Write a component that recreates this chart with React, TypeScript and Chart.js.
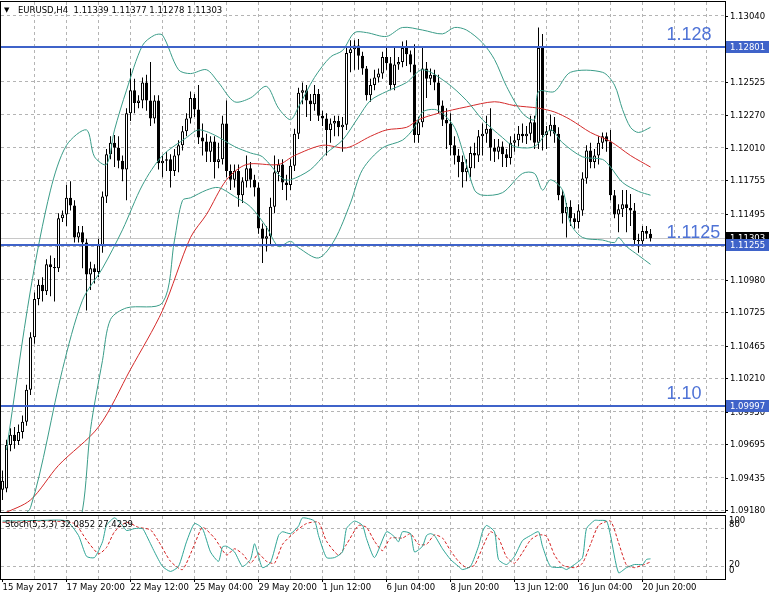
import React, { useEffect, useRef } from "react";
import { Chart, registerables } from "chart.js";

Chart.register(...registerables);

const FONT = "'DejaVu Sans', sans-serif";
const symbolName = "EURUSD,H4";

// ---- Candles (H4 bars) ----
const opens = [1.0934,1.0935,1.0969,1.0977,1.0972,1.0979,1.0987,1.1012,1.1053,1.1083,1.1094,1.1089,1.1110,1.1108,1.1107,1.1146,1.1149,1.1162,1.1156,1.1131,1.1135,1.1127,1.1102,1.1107,1.1104,1.1125,1.1163,1.1196,1.1205,1.1201,1.1191,1.1184,1.1228,1.1246,1.1236,1.1238,1.1252,1.1238,1.1224,1.1238,1.1189,1.1191,1.1192,1.1183,1.1195,1.1203,1.1214,1.1224,1.1240,1.1231,1.1209,1.1206,1.1198,1.1206,1.1190,1.1192,1.1220,1.1183,1.1176,1.1183,1.1164,1.1175,1.1185,1.1176,1.1170,1.1138,1.1130,1.1132,1.1155,1.1182,1.1188,1.1174,1.1172,1.1187,1.1212,1.1244,1.1246,1.1238,1.1235,1.1243,1.1226,1.1224,1.1215,1.1220,1.1222,1.1217,1.1219,1.1275,1.1278,1.1281,1.1273,1.1263,1.1242,1.1250,1.1256,1.1259,1.1272,1.1267,1.1250,1.1266,1.1268,1.1279,1.1274,1.1266,1.1211,1.1221,1.1263,1.1255,1.1258,1.1252,1.1234,1.1223,1.1220,1.1203,1.1195,1.1190,1.1182,1.1185,1.1197,1.1195,1.1210,1.1212,1.1216,1.1201,1.1198,1.1202,1.1196,1.1193,1.1205,1.1207,1.1212,1.1210,1.1212,1.1221,1.1205,1.1279,1.1211,1.1214,1.1219,1.1212,1.1164,1.1150,1.1155,1.1146,1.1143,1.1152,1.1177,1.1199,1.1190,1.1195,1.1205,1.1210,1.1206,1.1164,1.1149,1.1153,1.1157,1.1154,1.1152,1.1129,1.1128,1.1136,1.11339];
const highs = [1.0949,1.0973,1.0982,1.0983,1.0985,1.0992,1.1016,1.1057,1.1088,1.1098,1.1100,1.1114,1.1117,1.1115,1.1150,1.1152,1.1172,1.1175,1.1160,1.1140,1.1140,1.1130,1.1112,1.1110,1.1130,1.1167,1.1200,1.1210,1.1211,1.1210,1.1195,1.1232,1.1263,1.1255,1.1242,1.1256,1.1258,1.1268,1.1242,1.1242,1.1195,1.1198,1.1196,1.1200,1.1207,1.1218,1.1228,1.1245,1.1243,1.1250,1.1220,1.1212,1.1210,1.1210,1.1205,1.1226,1.1238,1.1188,1.1188,1.1188,1.1178,1.1195,1.1190,1.1180,1.1174,1.1142,1.1140,1.1162,1.1195,1.1192,1.1192,1.1180,1.1192,1.1216,1.1248,1.1252,1.1250,1.1243,1.1250,1.1247,1.1230,1.1228,1.1224,1.1226,1.1226,1.1225,1.1280,1.1285,1.1285,1.1286,1.1276,1.1265,1.1255,1.1262,1.1263,1.1276,1.1280,1.1272,1.1280,1.1272,1.1284,1.1285,1.1277,1.1282,1.1225,1.1280,1.1268,1.1263,1.1262,1.1258,1.1238,1.1232,1.1228,1.1210,1.1200,1.1195,1.1192,1.1202,1.1205,1.1215,1.1220,1.1226,1.1232,1.1208,1.1208,1.1206,1.1200,1.1210,1.1212,1.1218,1.1220,1.1218,1.1226,1.1226,1.1295,1.1290,1.1218,1.1227,1.1225,1.1217,1.1168,1.1158,1.1160,1.1150,1.1157,1.1182,1.1203,1.1205,1.1200,1.1210,1.1213,1.1213,1.1215,1.1168,1.1157,1.1168,1.1168,1.1165,1.1158,1.1134,1.1140,1.1140,1.11377];
const lows = [1.0926,1.0932,1.0964,1.0966,1.0969,1.0974,1.0984,1.1008,1.1048,1.1078,1.1081,1.1086,1.1085,1.1081,1.1104,1.1143,1.1140,1.1152,1.1127,1.1127,1.1107,1.1074,1.1090,1.1095,1.1100,1.1119,1.1158,1.1192,1.1186,1.1185,1.1175,1.1160,1.1222,1.1228,1.1232,1.1232,1.1230,1.1218,1.1220,1.1184,1.1178,1.1183,1.1170,1.1179,1.1182,1.1199,1.1210,1.1220,1.1225,1.1204,1.1195,1.1190,1.1190,1.1177,1.1185,1.1188,1.1178,1.1168,1.1170,1.1155,1.1158,1.1170,1.1170,1.1163,1.1134,1.1111,1.1120,1.1125,1.1150,1.1175,1.1168,1.1160,1.1168,1.1183,1.1208,1.1235,1.1225,1.1222,1.1230,1.1222,1.1218,1.1195,1.1205,1.1210,1.1210,1.1198,1.1215,1.1260,1.1262,1.1262,1.1258,1.1238,1.1237,1.1246,1.1252,1.1255,1.1262,1.1246,1.1246,1.1262,1.1264,1.1265,1.1260,1.1205,1.1205,1.1217,1.1240,1.1250,1.1246,1.1228,1.1218,1.1200,1.1195,1.1188,1.1178,1.1170,1.1175,1.1178,1.1185,1.1190,1.1195,1.1205,1.1191,1.1190,1.1192,1.1186,1.1186,1.1188,1.1198,1.1202,1.1205,1.1204,1.1207,1.1200,1.1200,1.1199,1.1200,1.1210,1.1205,1.1160,1.1142,1.1131,1.1140,1.1138,1.1138,1.1148,1.1173,1.1185,1.1185,1.1188,1.1200,1.1198,1.1160,1.1146,1.1135,1.1147,1.1135,1.1140,1.1125,1.1119,1.1124,1.1130,1.11278];
const closes = [1.0941,1.0969,1.0977,1.0972,1.0979,1.0987,1.1012,1.1053,1.1083,1.1094,1.1089,1.1110,1.1108,1.1107,1.1146,1.1149,1.1162,1.1156,1.1131,1.1135,1.1127,1.1102,1.1107,1.1104,1.1125,1.1163,1.1196,1.1205,1.1201,1.1191,1.1184,1.1228,1.1246,1.1236,1.1238,1.1252,1.1238,1.1224,1.1238,1.1189,1.1191,1.1192,1.1183,1.1195,1.1203,1.1214,1.1224,1.1240,1.1231,1.1209,1.1206,1.1198,1.1206,1.1190,1.1192,1.1220,1.1183,1.1176,1.1183,1.1164,1.1175,1.1185,1.1176,1.1170,1.1138,1.1130,1.1132,1.1155,1.1182,1.1188,1.1174,1.1172,1.1187,1.1212,1.1244,1.1246,1.1238,1.1235,1.1243,1.1226,1.1224,1.1215,1.1220,1.1222,1.1217,1.1219,1.1275,1.1278,1.1281,1.1273,1.1263,1.1242,1.1250,1.1256,1.1259,1.1272,1.1267,1.1250,1.1266,1.1268,1.1279,1.1274,1.1266,1.1211,1.1221,1.1263,1.1255,1.1258,1.1252,1.1234,1.1223,1.1220,1.1203,1.1195,1.1190,1.1182,1.1185,1.1197,1.1195,1.1210,1.1212,1.1216,1.1201,1.1198,1.1202,1.1196,1.1193,1.1205,1.1207,1.1212,1.1210,1.1212,1.1221,1.1205,1.1279,1.1211,1.1214,1.1219,1.1212,1.1164,1.1150,1.1155,1.1146,1.1143,1.1152,1.1177,1.1199,1.1190,1.1195,1.1205,1.1210,1.1206,1.1164,1.1149,1.1153,1.1157,1.1154,1.1152,1.1129,1.1128,1.1136,1.1134,1.11303];

// ---- Bollinger bands & moving average (bar index, price) ----
const bbUpperIdx = [1,7,12,16,21,23,26,28,31,35,38,40,44,47,51,54,58,62,66,69,72,74,78,82,85,88,91,96,100,105,110,113,116,120,123,126,130,133,134,138,142,150,153,155,157,159,162];
const bbUpperVal = [1.0965,1.1090,1.1168,1.1203,1.1215,1.1194,1.1188,1.1215,1.1246,1.1281,1.1289,1.1289,1.1262,1.1259,1.1262,1.1252,1.1237,1.1240,1.1249,1.1232,1.1223,1.1233,1.1256,1.1272,1.1277,1.1291,1.1291,1.1288,1.1295,1.1293,1.1290,1.1295,1.1293,1.1283,1.1270,1.1249,1.1228,1.1223,1.1245,1.1245,1.1260,1.1260,1.1250,1.1231,1.1217,1.1213,1.1217];
const bbMidIdx = [3,7,15,20,25,30,35,40,46,49,53,58,62,65,70,72,77,81,85,89,92,96,101,105,111,116,120,125,128,133,137,140,145,150,152,155,159,162];
const bbMidVal = [1.0910,1.0920,1.1028,1.1082,1.1107,1.1137,1.1172,1.1195,1.1209,1.1215,1.1211,1.1202,1.1197,1.1194,1.1177,1.1176,1.1184,1.1197,1.1207,1.1225,1.1238,1.1245,1.1252,1.1262,1.1252,1.1238,1.1223,1.1209,1.1202,1.1202,1.1215,1.1205,1.1194,1.1192,1.1186,1.1174,1.1167,1.1164];
const bbLowerIdx = [17,20,22,25,27,31,40,43,45,47,51,54,58,62,66,69,72,74,79,83,87,90,95,100,103,105,108,110,113,115,118,120,125,130,133,135,137,140,142,145,150,153,154,156,159,162];
const bbLowerVal = [1.0890,1.0918,1.0981,1.1035,1.1067,1.1076,1.1080,1.1129,1.1160,1.1162,1.1168,1.1170,1.1163,1.1155,1.1139,1.1124,1.1128,1.1123,1.1115,1.1129,1.1158,1.1184,1.1201,1.1207,1.1217,1.1229,1.1231,1.1228,1.1217,1.1199,1.1168,1.1164,1.1166,1.1181,1.1181,1.1168,1.1176,1.1168,1.1142,1.1131,1.1129,1.1127,1.1131,1.1124,1.1117,1.1110];
const maIdx = [0,7,14,24,32,40,47,51,56,61,69,73,80,86,92,96,101,104,109,116,123,128,134,138,142,147,152,157,162];
const maVal = [1.0915,1.0926,1.0953,1.0983,1.1028,1.1074,1.1131,1.1149,1.1176,1.1188,1.1188,1.1195,1.1203,1.1201,1.1210,1.1215,1.1217,1.1223,1.1228,1.1233,1.1237,1.1234,1.1232,1.1229,1.1223,1.1213,1.1206,1.1195,1.1186];

// ---- Stochastic (bar index, value) ----
const stochMainIdx = [0,10,16,19,21,23,25,26,28,30,31,33,35,36,38,40,42,44,46,48,50,52,54,55,56,58,60,62,63,64,65,67,69,70,72,74,75,78,79,81,83,85,86,88,90,91,93,96,98,99,100,102,103,105,106,107,108,110,112,114,115,117,119,120,121,123,124,126,128,130,132,134,135,137,140,141,143,145,146,148,149,151,152,154,156,158,160,161,162];
const stochMainVal = [92,93,92,69,36,34,59,85,97,85,77,80,80,69,43,20,12,20,59,88,80,43,28,51,52,43,20,31,56,36,18,26,69,75,72,84,97,92,69,34,34,43,80,92,85,64,34,75,67,59,75,72,43,52,69,72,69,48,31,20,15,20,52,75,85,75,31,23,36,61,69,75,52,20,18,15,23,34,80,93,93,92,69,10,18,23,23,31,32];
const stochSigIdx = [0,12,18,21,24,26,28,31,34,37,39,42,45,48,50,53,56,58,60,62,64,66,68,70,73,76,79,81,84,86,89,91,93,95,97,100,102,104,106,108,110,112,114,116,118,120,122,124,126,128,130,132,134,136,138,140,143,145,147,149,152,154,156,158,160,162];
const stochSigVal = [90,92,88,62,40,50,75,90,82,78,60,28,15,55,82,65,38,48,40,25,40,28,25,55,74,88,90,60,38,55,85,82,60,45,65,65,72,55,55,70,65,45,28,18,22,50,75,65,35,25,42,62,70,68,38,22,18,25,55,85,92,58,22,18,22,27];
const stochTitle = "Stoch(5,3,3)";
const stochMainLast = 32.0852;
const stochSignalLast = 27.4239;
const stochLevels = [20, 80];
const stochLabels = [100, 80, 20, 0];

// ---- Axes ----
const timeLabels = ["15 May 2017","17 May 20:00","22 May 12:00","25 May 04:00","29 May 20:00","1 Jun 12:00","6 Jun 04:00","8 Jun 20:00","13 Jun 12:00","16 Jun 04:00","20 Jun 20:00"];
const labelEvery = 16;
const gridEvery = 8;
const priceTicks = [1.1304,1.12525,1.1227,1.1201,1.11755,1.11495,1.1124,1.1098,1.10725,1.10465,1.1021,1.0995,1.09695,1.09435,1.0918];
const priceMin = 1.09166;
const priceMax = 1.13149;
const levels = [1.12801, 1.11255, 1.09997];
const levelNames = ["1.128", "1.1125", "1.10"];
const levelNameBar = 166;

const X_MIN = -0.375;
const X_MAX = 180.625;
const GRID = "#b4b4b4";
const BB = "#3a9c88";
const MA = "#d42a2a";
const BLUE = "#3f63c9";
const BLUE_TEXT = "#4f73d6";

const pts = (ix: number[], v: number[]) => ix.map((x, k) => ({ x, y: v[k] }));
const fmt = (v: number) => v.toFixed(5);

export default function App() {
  const mainRef = useRef<HTMLCanvasElement | null>(null);
  const stochRef = useRef<HTMLCanvasElement | null>(null);

  useEffect(() => {
    const n = opens.length;
    const idx = Array.from({ length: n }, (_, i) => i);
    const gridTicks: number[] = [];
    for (let v = gridEvery; v <= X_MAX; v += gridEvery) gridTicks.push(v);
    const allTicks = [0, ...gridTicks];
    const last = n - 1;

    const mainOverlay = {
      id: "mt4main",
      beforeDatasetsDraw(chart: any) {
        const { ctx, chartArea: a, scales } = chart;
        const py = Math.round(scales.y.getPixelForValue(closes[last])) + 0.5;
        ctx.save();
        ctx.strokeStyle = "#c8c8c8";
        ctx.lineWidth = 1;
        ctx.beginPath();
        ctx.moveTo(a.left, py);
        ctx.lineTo(a.right, py);
        ctx.stroke();
        ctx.restore();
      },
      afterDraw(chart: any) {
        const { ctx, chartArea: a, scales } = chart;
        const y = scales.y;
        const x = scales.x;
        ctx.save();
        // price axis labels and tick marks
        ctx.font = "8.5px " + FONT;
        ctx.textAlign = "left";
        ctx.textBaseline = "middle";
        priceTicks.forEach((v) => {
          const py = Math.round(y.getPixelForValue(v));
          ctx.fillStyle = "#000";
          ctx.fillRect(a.right, py, 3, 1);
          ctx.fillText(fmt(v), a.right + 5, py + 0.5);
        });
        // levels
        levels.forEach((lv, k) => {
          const py = Math.round(y.getPixelForValue(lv));
          ctx.fillStyle = BLUE;
          ctx.fillRect(a.left, py - 1, a.right - a.left, 2);
          ctx.font = "18px 'Liberation Sans', Arial, sans-serif";
          ctx.fillStyle = BLUE_TEXT;
          ctx.textAlign = "left";
          ctx.textBaseline = "alphabetic";
          ctx.fillText(levelNames[k], x.getPixelForValue(levelNameBar), py - 7);
        });
        // frame
        ctx.strokeStyle = "#000";
        ctx.lineWidth = 1;
        ctx.strokeRect(a.left - 0.5, a.top - 0.5, a.right - a.left + 1, a.bottom - a.top + 1);
        // axis boxes
        const box = (v: number, bg: string) => {
          const py = Math.round(y.getPixelForValue(v));
          ctx.fillStyle = bg;
          ctx.fillRect(a.right + 1, py - 6, chart.width - a.right - 1, 12);
          ctx.fillStyle = "#fff";
          ctx.font = "8.5px " + FONT;
          ctx.textAlign = "left";
          ctx.textBaseline = "middle";
          ctx.fillText(fmt(v), a.right + 5, py + 0.5);
        };
        box(closes[last], "#000");
        levels.forEach((lv) => box(lv, BLUE));
        // header
        ctx.fillStyle = "#000";
        ctx.textAlign = "left";
        ctx.textBaseline = "alphabetic";
        ctx.font = "7px " + FONT;
        ctx.fillText("\u25BC", 4, 12);
        ctx.font = "8.5px " + FONT;
        ctx.fillText(
          `${symbolName}  ${fmt(opens[last])} ${fmt(highs[last])} ${fmt(lows[last])} ${fmt(closes[last])}`,
          18,
          13
        );
        ctx.restore();
      },
    };

    const main = new Chart(mainRef.current as HTMLCanvasElement, {
      type: "bar",
      data: {
        datasets: [
          { type: "line", data: pts(bbUpperIdx, bbUpperVal), borderColor: BB, borderWidth: 1, pointRadius: 0, tension: 0.3, order: 0 },
          { type: "line", data: pts(bbMidIdx, bbMidVal), borderColor: BB, borderWidth: 1, pointRadius: 0, tension: 0.3, order: 0 },
          { type: "line", data: pts(bbLowerIdx, bbLowerVal), borderColor: BB, borderWidth: 1, pointRadius: 0, tension: 0.3, order: 0 },
          { type: "line", data: pts(maIdx, maVal), borderColor: MA, borderWidth: 1, pointRadius: 0, tension: 0.3, order: 0 },
          {
            type: "bar",
            data: idx.map((i) => ({ x: i, y: [lows[i], highs[i]] })),
            backgroundColor: "#000",
            borderWidth: 0,
            barThickness: 1,
            grouped: false,
            inflateAmount: 0,
            order: 2,
          },
          {
            type: "bar",
            data: idx.map((i) => ({ x: i, y: [opens[i], closes[i]] })),
            backgroundColor: idx.map((i) => (closes[i] >= opens[i] ? "#fff" : "#000")),
            borderColor: "#000",
            borderWidth: 1,
            borderSkipped: false,
            barThickness: 3,
            grouped: false,
            inflateAmount: 0,
            order: 1,
          },
        ] as any,
      },
      options: {
        responsive: false,
        animation: false,
        devicePixelRatio: 1,
        events: [],
        layout: { padding: { left: 1, top: 2, right: 0, bottom: 2 } },
        plugins: { legend: { display: false }, tooltip: { enabled: false } },
        scales: {
          x: {
            type: "linear",
            min: X_MIN,
            max: X_MAX,
            offset: false,
            grid: { color: GRID, drawTicks: false, offset: false },
            border: { display: false, dash: [3, 3] },
            ticks: { display: false },
            afterBuildTicks: (s: any) => { s.ticks = gridTicks.map((v) => ({ value: v })); },
            afterFit: (s: any) => { s.height = 0; },
          },
          y: {
            position: "right",
            min: priceMin,
            max: priceMax,
            beginAtZero: false,
            grid: { color: GRID, drawTicks: false },
            border: { display: false, dash: [3, 3] },
            ticks: { display: false },
            afterBuildTicks: (s: any) => { s.ticks = priceTicks.map((v) => ({ value: v })); },
            afterFit: (s: any) => { s.width = 44; },
          },
        },
      } as any,
      plugins: [mainOverlay],
    });

    const stochOverlay = {
      id: "mt4stoch",
      afterDraw(chart: any) {
        const { ctx, chartArea: a, scales } = chart;
        const y = scales.y;
        ctx.save();
        ctx.strokeStyle = "#000";
        ctx.lineWidth = 1;
        ctx.strokeRect(a.left - 0.5, a.top - 0.5, a.right - a.left + 1, a.bottom - a.top + 1);
        ctx.fillStyle = "#000";
        ctx.font = "8.5px " + FONT;
        ctx.textAlign = "left";
        ctx.textBaseline = "alphabetic";
        const shift: Record<number, number> = { 100: 7, 80: -2, 20: 1, 0: -6 };
        stochLabels.forEach((v) => {
          ctx.fillText(String(v), a.right + 4, y.getPixelForValue(v) + (shift[v] ?? 0));
        });
        ctx.fillText(`${stochTitle} ${stochMainLast.toFixed(4)} ${stochSignalLast.toFixed(4)}`, 5, 13);
        ctx.restore();
      },
    };

    const hasLabel = (v: number) => v % labelEvery === 0 && v / labelEvery < timeLabels.length;

    const stoch = new Chart(stochRef.current as HTMLCanvasElement, {
      type: "line",
      data: {
        datasets: [
          { data: pts(stochMainIdx, stochMainVal), borderColor: "#2fa596", borderWidth: 1, pointRadius: 0, tension: 0.2 },
          { data: pts(stochSigIdx, stochSigVal), borderColor: "#d42020", borderDash: [3, 2], borderWidth: 1, pointRadius: 0, tension: 0.2 },
        ],
      },
      options: {
        responsive: false,
        animation: false,
        devicePixelRatio: 1,
        events: [],
        layout: { padding: { left: 1, top: 2, right: 0, bottom: 0 } },
        plugins: { legend: { display: false }, tooltip: { enabled: false } },
        scales: {
          x: {
            type: "linear",
            min: X_MIN,
            max: X_MAX,
            offset: false,
            grid: {
              offset: false,
              drawTicks: true,
              tickLength: 3,
              color: (c: any) => (c.tick && c.tick.value === 0 ? "rgba(0,0,0,0)" : GRID),
              tickColor: (c: any) => (c.tick && hasLabel(c.tick.value) ? "#000" : "rgba(0,0,0,0)"),
            },
            border: { display: false, dash: [3, 3] },
            ticks: {
              autoSkip: false,
              maxRotation: 0,
              minRotation: 0,
              align: "start",
              padding: 1,
              color: "#000",
              font: { family: FONT, size: 8.5 },
              callback: (v: any) => (hasLabel(Number(v)) ? timeLabels[Number(v) / labelEvery] : ""),
            },
            afterBuildTicks: (s: any) => { s.ticks = allTicks.map((v) => ({ value: v })); },
            afterFit: (s: any) => { s.height = 16; },
          },
          y: {
            position: "right",
            min: 0,
            max: 100,
            grid: { color: GRID, drawTicks: false },
            border: { display: false, dash: [3, 3] },
            ticks: { display: false },
            afterBuildTicks: (s: any) => { s.ticks = stochLevels.map((v) => ({ value: v })); },
            afterFit: (s: any) => { s.width = 44; },
          },
        },
      } as any,
      plugins: [stochOverlay],
    });

    return () => {
      main.destroy();
      stoch.destroy();
    };
  }, []);

  return (
    <div style={{ position: "fixed", left: 0, top: 0, width: 769, height: 595, background: "#fff", overflow: "hidden" }}>
      <canvas ref={mainRef} width={769} height={514} style={{ position: "absolute", left: 0, top: 0 }} />
      <canvas ref={stochRef} width={769} height={81} style={{ position: "absolute", left: 0, top: 514 }} />
    </div>
  );
}
